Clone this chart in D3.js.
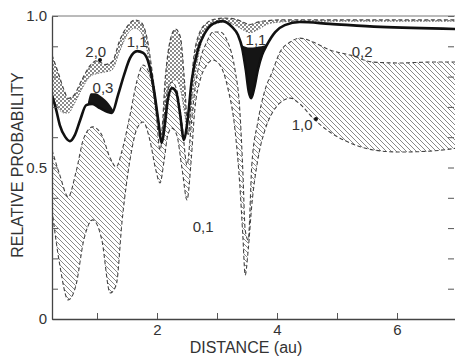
<!DOCTYPE html>
<meta charset="utf-8">
<script src="https://d3js.org/d3.v7.min.js"></script>
<style>
  body { margin: 0; background: #fff; }
  text { font-family: "Liberation Sans", Arial, sans-serif; fill: #333; }
</style>
<div id="chart"></div>
<script>
// ---- data (distance in au, relative probability) ----
// crosshatched band: "2,0" curve on top, dotted curve below it
const crossDist = [0.25,0.35,0.45,0.52,0.62,0.75,0.88,1.0,1.13,1.25,1.38,1.52,1.63,1.73,1.83,1.93,2.0,2.07,2.14,2.22,2.31,2.39,2.46,2.52,2.6,2.7,2.82,2.97,3.13,3.3,3.43,3.55,3.68,3.85,4.05,4.4,5.0,6.0,7.0];
const curve20 = [0.871,0.815,0.756,0.728,0.74,0.79,0.835,0.853,0.84,0.848,0.92,0.97,0.987,0.98,0.93,0.80,0.69,0.61,0.80,0.92,0.957,0.93,0.78,0.61,0.84,0.94,0.975,0.99,0.993,0.99,0.98,0.972,0.98,0.985,0.987,0.987,0.987,0.987,0.987];
const crossLow = [0.729,0.696,0.68,0.68,0.71,0.76,0.80,0.81,0.815,0.822,0.885,0.944,0.96,0.947,0.89,0.76,0.66,0.607,0.68,0.775,0.79,0.76,0.68,0.607,0.75,0.88,0.95,0.974,0.98,0.97,0.955,0.945,0.955,0.974,0.98,0.983,0.983,0.983,0.983];

// heavy solid curve "1,1"
const thickDist = [0.25,0.32,0.38,0.47,0.55,0.63,0.72,0.82,0.92,1.05,1.18,1.25,1.35,1.45,1.55,1.67,1.77,1.87,1.95,2.02,2.08,2.13,2.18,2.25,2.32,2.38,2.45,2.5,2.58,2.68,2.8,2.93,3.08,3.25,3.35,3.42,3.48,3.53,3.57,3.62,3.68,3.75,3.83,3.97,4.13,4.38,4.88,5.72,7.0];
const thickProb = [0.739,0.69,0.64,0.601,0.587,0.607,0.657,0.706,0.71,0.696,0.683,0.68,0.739,0.805,0.861,0.884,0.878,0.838,0.756,0.657,0.581,0.64,0.723,0.762,0.749,0.683,0.591,0.64,0.789,0.888,0.944,0.974,0.983,0.964,0.937,0.894,0.822,0.749,0.729,0.762,0.822,0.871,0.904,0.947,0.97,0.98,0.974,0.964,0.957];

// black bands
const black03Dist = [0.85,0.9,0.98,1.05,1.13,1.2,1.27];
const black03Top = [0.716,0.745,0.745,0.738,0.725,0.71,0.69];
const black03Bot = [0.708,0.71,0.705,0.696,0.688,0.683,0.682];
const black11Dist = [3.40,3.45,3.50,3.53,3.56,3.60,3.66,3.74,3.84];
const black11Top = [0.905,0.90,0.897,0.896,0.896,0.896,0.898,0.90,0.905];
const black11Bot = [0.905,0.86,0.79,0.75,0.73,0.75,0.81,0.865,0.905];

// diagonally hatched band: upper dashed curve ("0,2" on the right), lower curve ("0,1" left, "1,0" right)
const hatchDist = [0.25,0.38,0.52,0.65,0.78,0.93,1.08,1.22,1.32,1.42,1.55,1.67,1.77,1.88,1.98,2.05,2.12,2.18,2.25,2.33,2.42,2.5,2.57,2.63,2.72,2.83,2.93,3.05,3.18,3.3,3.38,3.43,3.47,3.52,3.58,3.68,3.8,3.92,4.05,4.22,4.38,4.6,4.88,5.22,5.6,6.05,6.55,7.0];
const hatchUpper = [0.558,0.475,0.403,0.485,0.597,0.634,0.607,0.531,0.502,0.558,0.673,0.789,0.838,0.805,0.69,0.558,0.673,0.756,0.782,0.756,0.64,0.508,0.64,0.756,0.855,0.914,0.947,0.947,0.914,0.822,0.69,0.492,0.294,0.261,0.508,0.65,0.756,0.815,0.881,0.914,0.927,0.914,0.888,0.871,0.848,0.845,0.848,0.848];
const hatchLower = [0.36,0.178,0.063,0.112,0.261,0.327,0.261,0.086,0.112,0.327,0.525,0.63,0.65,0.591,0.492,0.449,0.525,0.607,0.63,0.607,0.492,0.393,0.525,0.69,0.789,0.838,0.855,0.838,0.762,0.624,0.442,0.277,0.145,0.228,0.376,0.525,0.624,0.68,0.713,0.729,0.71,0.663,0.617,0.581,0.558,0.551,0.554,0.564];

// curve labels
const labelText = ["2,0","1,1","0,3","1,1","0,2","1,0","0,1"];
const labelDist = [0.98,1.67,1.10,3.65,5.42,4.42,2.77];
const labelProb = [0.865,0.898,0.746,0.904,0.865,0.624,0.287];
const dotDist = [1.05,4.65];
const dotProb = [0.855,0.66];

// axis ticks
const xTickVals = [1,2,3,4,5,6];
const xTickLabels = {2:"2",4:"4",6:"6"};
const yTickVals = [0,0.5,1];
const yTickLabels = ["0","0.5","1.0"];

// ---- chart ----
const W = 455, H = 356;
const svg = d3.select("#chart").append("svg").attr("width", W).attr("height", H);

const x = d3.scaleLinear().domain([0.25, 7]).range([52, 457]);
const y = d3.scaleLinear().domain([0, 1]).range([319, 16]);

const defs = svg.append("defs");
defs.append("clipPath").attr("id", "plot")
  .append("rect").attr("x", 52).attr("y", 16).attr("width", 403).attr("height", 303);

const hatch = defs.append("pattern").attr("id", "hatch")
  .attr("patternUnits", "userSpaceOnUse").attr("width", 5).attr("height", 5);
hatch.append("path").attr("d", "M-1,-1 L6,6 M-1,4 L1,6 M4,-1 L6,1")
  .attr("stroke", "#7a7a7a").attr("stroke-width", 0.9);

const cross = defs.append("pattern").attr("id", "cross")
  .attr("patternUnits", "userSpaceOnUse").attr("width", 4).attr("height", 4);
cross.append("rect").attr("x", 0).attr("y", 0).attr("width", 2).attr("height", 2).attr("fill", "#8a8a8a");
cross.append("rect").attr("x", 2).attr("y", 2).attr("width", 2).attr("height", 2).attr("fill", "#8a8a8a");

const g = svg.append("g").attr("clip-path", "url(#plot)");
const curve = d3.curveMonotoneX;

function band(xs, top, bot) {
  return d3.area().curve(curve)
    .x((d, i) => x(xs[i])).y0((d, i) => y(bot[i])).y1((d, i) => y(top[i]))(xs);
}
function path(xs, ys) {
  return d3.line().curve(curve).x((d, i) => x(xs[i])).y((d, i) => y(ys[i]))(xs);
}

// filled bands
g.append("path").attr("d", band(hatchDist, hatchUpper, hatchLower)).attr("fill", "url(#hatch)");
g.append("path").attr("d", band(crossDist, curve20, crossLow)).attr("fill", "url(#cross)");
g.append("path").attr("d", band(black03Dist, black03Top, black03Bot)).attr("fill", "#151515");
g.append("path").attr("d", band(black11Dist, black11Top, black11Bot)).attr("fill", "#151515");

// outlines
g.append("path").attr("d", path(hatchDist, hatchUpper))
  .attr("fill", "none").attr("stroke", "#444").attr("stroke-width", 1.1).attr("stroke-dasharray", "4,2.5");
g.append("path").attr("d", path(hatchDist, hatchLower))
  .attr("fill", "none").attr("stroke", "#444").attr("stroke-width", 1.1).attr("stroke-dasharray", "4,2.5");
g.append("path").attr("d", path(crossDist, crossLow))
  .attr("fill", "none").attr("stroke", "#666").attr("stroke-width", 1).attr("stroke-dasharray", "1.5,1.5");
g.append("path").attr("d", path(crossDist, curve20))
  .attr("fill", "none").attr("stroke", "#444").attr("stroke-width", 1.2).attr("stroke-dasharray", "4,2.5");
g.append("path").attr("d", path(thickDist, thickProb))
  .attr("fill", "none").attr("stroke", "#111").attr("stroke-width", 2.6);

// axes
const yAxis = svg.append("g").attr("transform", "translate(52,0)")
  .call(d3.axisLeft(y).tickValues(d3.range(0, 1.01, 0.1)).tickSizeInner(-6).tickSizeOuter(0).tickPadding(5)
    .tickFormat(d => { const k = yTickVals.findIndex(v => Math.abs(v - d) < 1e-6); return k < 0 ? "" : yTickLabels[k]; }));
const yAxisR = svg.append("g").attr("transform", "translate(454,0)")
  .call(d3.axisRight(y).tickValues(d3.range(0, 1.01, 0.1)).tickSizeInner(-6).tickSizeOuter(0).tickFormat(""));
yAxisR.select(".domain").remove();
const xAxis = svg.append("g").attr("transform", "translate(0,319)")
  .call(d3.axisBottom(x).tickValues(xTickVals).tickSizeInner(-6).tickSizeOuter(0).tickPadding(5)
    .tickFormat(d => xTickLabels[d] || ""));
svg.selectAll(".domain").attr("stroke", "#444").attr("stroke-width", 1.3);
svg.selectAll(".tick line").attr("stroke", "#555");
svg.selectAll(".tick text").style("font-family", "'Liberation Sans', Arial, sans-serif")
  .style("font-size", "15px").attr("fill", "#333");

// top frame line
svg.append("line").attr("x1", 52).attr("x2", 455).attr("y1", y(1)).attr("y2", y(1))
  .attr("stroke", "#777").attr("stroke-width", 1);

// curve labels
svg.selectAll(".lbl").data(labelText).enter().append("text")
  .attr("class", "lbl")
  .attr("x", (d, i) => x(labelDist[i])).attr("y", (d, i) => y(labelProb[i]))
  .attr("text-anchor", "middle").style("font-size", "15px")
  .text(d => d);
svg.selectAll(".dot").data(dotDist).enter().append("circle")
  .attr("cx", (d, i) => x(dotDist[i])).attr("cy", (d, i) => y(dotProb[i]))
  .attr("r", 2).attr("fill", "#111");

// axis titles
svg.append("text").attr("x", 246).attr("y", 353).attr("text-anchor", "middle")
  .style("font-size", "16px").text("DISTANCE (au)");
svg.append("text").attr("transform", "translate(23,165) rotate(-90)").attr("text-anchor", "middle")
  .style("font-size", "16px").text("RELATIVE PROBABILITY");
</script>
